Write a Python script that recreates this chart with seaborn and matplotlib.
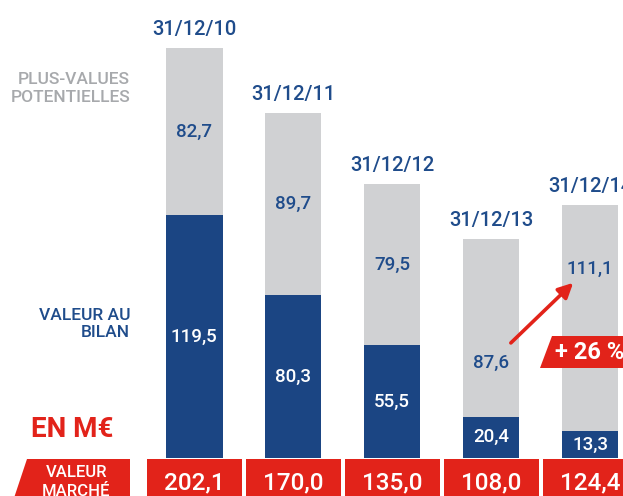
import matplotlib
matplotlib.use("Agg")
import matplotlib.pyplot as plt
from matplotlib.patches import Polygon, Rectangle
import seaborn as sns
import pandas as pd

# ---- data ----
dates = ["31/12/10", "31/12/11", "31/12/12", "31/12/13", "31/12/14"]
valeur_bilan = [119.5, 80.3, 55.5, 20.4, 13.3]
plus_values = [82.7, 89.7, 79.5, 87.6, 111.1]
valeur_marche = [202.1, 170.0, 135.0, 108.0, 124.4]
growth_label = "+ 26 %"

# ---- style ----
sns.set_theme(style="white")
plt.rcParams["font.family"] = ["Roboto", "DejaVu Sans"]

GREY = "#D0D1D3"
BLUE = "#1B4583"
TXT_BLUE = "#1F4C8B"
RED = "#E2231A"
GREY_TXT = "#A7A9AC"

def fr(v):
    return f"{v:.1f}".replace(".", ",")

df = pd.DataFrame({"date": dates, "bilan": valeur_bilan,
                   "pv": plus_values, "marche": valeur_marche})

fig = plt.figure(figsize=(6.23, 4.96), dpi=100)
ax = fig.add_axes([0, 0, 1, 1])

sns.barplot(data=df, x="date", y="marche", color=GREY, saturation=1,
            width=0.575, ax=ax, linewidth=0, edgecolor="none")
sns.barplot(data=df, x="date", y="bilan", color=BLUE, saturation=1,
            width=0.575, ax=ax, linewidth=0, edgecolor="none")

ax.set_xlim(-1.96, 4.333)
ax.set_ylim(-18.72, 225.6)
ax.axis("off")

grey_frac = [0.5, 0.5, 0.5, 0.3, 0.72]
for i in range(len(dates)):
    b = valeur_bilan[i]
    p = plus_values[i]
    tot = valeur_marche[i]
    # date above
    ax.annotate(dates[i], (i, tot), xytext=(0, 9.5), textcoords="offset points",
                ha="center", va="baseline", fontsize=14.5, color=TXT_BLUE,
                fontweight="medium")
    # dark label
    ax.text(i, b / 2, fr(b), ha="center", va="center", fontsize=13.5,
            color="white", fontweight="medium")
    # grey label
    ax.text(i, b + p * grey_frac[i], fr(p), ha="center", va="center",
            fontsize=13.5, color=TXT_BLUE, fontweight="medium")
    # red box with total
    ax.add_patch(Rectangle((i - 0.48, -30), 0.96, 29.7, color=RED, lw=0,
                           clip_on=False))
    ax.text(i, -15.3, fr(tot), ha="center", va="baseline", fontsize=17.5,
            color="white", fontweight="medium")

# left label box
ax.add_patch(Polygon([(-1.687, -0.3), (-0.646, -0.3), (-0.646, -30),
                      (-1.89, -30)], closed=True, color=RED, lw=0))
ax.text(-1.19, -9.2, "VALEUR", ha="center", va="baseline", fontsize=12,
        color="white", fontweight="medium")
ax.text(-1.19, -18.6, "MARCHÉ", ha="center", va="baseline", fontsize=12,
        color="white", fontweight="medium")

# left annotations
ax.text(-0.646, 182, "PLUS-VALUES\nPOTENTIELLES", ha="right", va="center",
        fontsize=12.5, color=GREY_TXT, linespacing=1.2, fontweight="medium")
ax.text(-0.646, 66, "VALEUR AU\nBILAN", ha="right", va="center",
        fontsize=12.5, color=TXT_BLUE, linespacing=1.2, fontweight="medium")
ax.text(-1.65, 13.8, "EN M€", ha="left", va="center", fontsize=20,
        color=RED, fontweight="bold")

# growth arrow and tag
y4 = valeur_bilan[3] + plus_values[3] * grey_frac[3]
y5 = valeur_bilan[4] + plus_values[4] * grey_frac[4]
ax.annotate("", xy=(3.83, y5 - 7), xytext=(3.2, y4 + 10),
            arrowprops=dict(arrowstyle="-|>", color=RED, lw=2.6,
                            mutation_scale=22, shrinkA=0, shrinkB=0))
ty = 52
ax.add_patch(Polygon([(3.62, ty + 7.9), (4.6, ty + 7.9), (4.6, ty - 7.9),
                      (3.49, ty - 7.9)], closed=True, color=RED, lw=0))
ax.text(4.0, ty, growth_label, ha="center", va="center", fontsize=17,
        color="white", fontweight="bold")

fig.savefig("out.png", dpi=100)
